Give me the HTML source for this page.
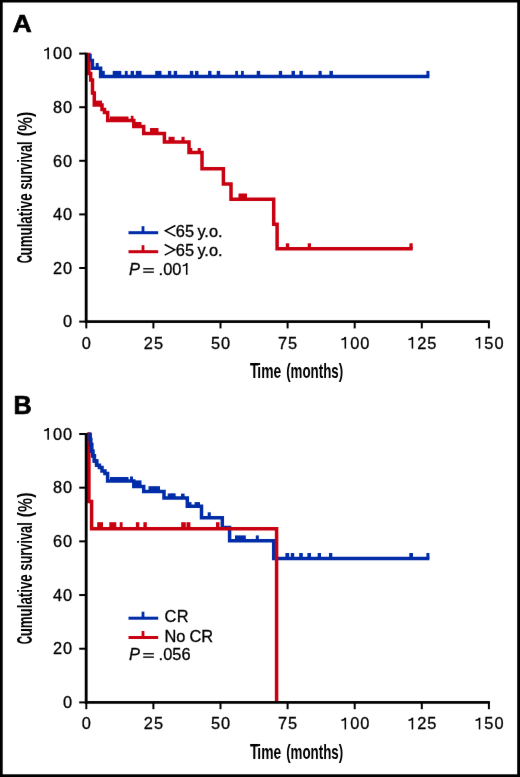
<!DOCTYPE html><html><head><meta charset="utf-8"><style>
html,body{margin:0;padding:0;background:#fff;width:520px;height:777px;overflow:hidden}
svg{display:block;will-change:transform}
text{font-family:"Liberation Sans",sans-serif;fill:#000}
.r{stroke:#000;stroke-width:0.3}
</style></head><body>
<svg width="520" height="777" viewBox="0 0 520 777">
<defs><filter id="sm" x="0" y="0" width="520" height="777" filterUnits="userSpaceOnUse" color-interpolation-filters="sRGB"><feConvolveMatrix order="3" kernelMatrix="0.0016 0.0371 0.0016 0.0371 0.8450 0.0371 0.0016 0.0371 0.0016" edgeMode="duplicate" preserveAlpha="true"/></filter></defs>
<g filter="url(#sm)">
<rect x="0" y="0" width="520" height="777" fill="#fff"/>
<text x="12.8" y="31.9" font-size="24.8" font-weight="bold" stroke="#000" stroke-width="0.7" transform="translate(12.8 0) scale(1.06 1) translate(-12.8 0)">A</text>
<text x="13.6" y="413.6" font-size="25.2" font-weight="bold" stroke="#000" stroke-width="0.7">B</text>
<text x="250.00" y="377.80" font-size="22.6" font-weight="bold" textLength="8.64" lengthAdjust="spacingAndGlyphs">T</text>
<text x="257.36" y="377.80" font-size="20.6" font-weight="bold" textLength="23.90" lengthAdjust="spacingAndGlyphs">ime</text>
<text x="286.17" y="377.80" font-size="20.6" font-weight="bold" textLength="57.05" lengthAdjust="spacingAndGlyphs">(months)</text>
<text x="250.00" y="758.50" font-size="22.6" font-weight="bold" textLength="8.64" lengthAdjust="spacingAndGlyphs">T</text>
<text x="257.36" y="758.50" font-size="20.6" font-weight="bold" textLength="23.90" lengthAdjust="spacingAndGlyphs">ime</text>
<text x="286.17" y="758.50" font-size="20.6" font-weight="bold" textLength="57.05" lengthAdjust="spacingAndGlyphs">(months)</text>
<text transform="translate(32.0 262.80) rotate(-90)" x="-0.52" y="0" font-size="22.6" font-weight="bold" textLength="8.24" lengthAdjust="spacingAndGlyphs">C</text>
<text transform="translate(32.0 254.10) rotate(-90)" x="-1.34" y="0" font-size="20.6" font-weight="bold" textLength="62.07" lengthAdjust="spacingAndGlyphs">umulative</text>
<text transform="translate(32.0 188.70) rotate(-90)" x="-1.14" y="0" font-size="20.6" font-weight="bold" textLength="48.47" lengthAdjust="spacingAndGlyphs">survival</text>
<text transform="translate(32.0 135.80) rotate(-90)" x="-0.46" y="0" font-size="20.6" font-weight="bold" textLength="24.55" lengthAdjust="spacingAndGlyphs">(%)</text>
<text transform="translate(31.6 643.70) rotate(-90)" x="-0.52" y="0" font-size="22.6" font-weight="bold" textLength="8.24" lengthAdjust="spacingAndGlyphs">C</text>
<text transform="translate(31.6 635.00) rotate(-90)" x="-1.34" y="0" font-size="20.6" font-weight="bold" textLength="62.07" lengthAdjust="spacingAndGlyphs">umulative</text>
<text transform="translate(31.6 569.60) rotate(-90)" x="-1.14" y="0" font-size="20.6" font-weight="bold" textLength="48.47" lengthAdjust="spacingAndGlyphs">survival</text>
<text transform="translate(31.6 516.70) rotate(-90)" x="-0.46" y="0" font-size="20.6" font-weight="bold" textLength="24.55" lengthAdjust="spacingAndGlyphs">(%)</text>
<path d="M90 53.8 V60.5 H92.4 V68.3 H100.6 V76.5 H429.4" fill="none" stroke="#002ca8" stroke-width="3.5" stroke-linejoin="miter"/>
<rect x="101.9" y="70.9" width="2.9" height="5.1" fill="#002ca8"/><rect x="112.7" y="70.9" width="8.6" height="5.1" fill="#002ca8"/><rect x="124.8" y="70.9" width="2.9" height="5.1" fill="#002ca8"/><rect x="130.6" y="70.9" width="3.4" height="5.1" fill="#002ca8"/><rect x="135.8" y="70.9" width="5.7" height="5.1" fill="#002ca8"/><rect x="155.2" y="70.9" width="6.3" height="5.1" fill="#002ca8"/><rect x="167.9" y="70.9" width="3.4" height="5.1" fill="#002ca8"/><rect x="173.7" y="70.9" width="3.4" height="5.1" fill="#002ca8"/><rect x="189.8" y="70.9" width="3.5" height="5.1" fill="#002ca8"/><rect x="195" y="70.9" width="3.5" height="5.1" fill="#002ca8"/><rect x="208.1" y="70.9" width="3.4" height="5.1" fill="#002ca8"/><rect x="216.7" y="70.9" width="3.5" height="5.1" fill="#002ca8"/><rect x="235.2" y="70.9" width="2.8" height="5.1" fill="#002ca8"/><rect x="241" y="70.9" width="2.8" height="5.1" fill="#002ca8"/><rect x="256.7" y="70.9" width="3.5" height="5.1" fill="#002ca8"/><rect x="278.8" y="70.9" width="3.3" height="5.1" fill="#002ca8"/><rect x="291.5" y="70.9" width="3.5" height="5.1" fill="#002ca8"/><rect x="299.4" y="70.9" width="3.4" height="5.1" fill="#002ca8"/><rect x="318.5" y="70.9" width="3.2" height="5.1" fill="#002ca8"/><rect x="329.4" y="70.9" width="3.5" height="5.1" fill="#002ca8"/><rect x="426.4" y="70.9" width="3.0" height="5.1" fill="#002ca8"/>
<rect x="95.7" y="63" width="3.0" height="5.3" fill="#002ca8"/>
<path d="M88.9 52.8 V73.5 H90.7 V80 H92.5 V93 H94.3 V105.1 H102 V109.5 H104.5 V112.5 H107.7 V120.5 H133.8 V126.5 H143.7 V133.5 H164.4 V142 H189 V152.6 H202 V168.8 H223.4 V183.9 H231 V199.2 H273.7 V224.2 H277.1 V248.8 H412.7" fill="none" stroke="#c80010" stroke-width="3.5" stroke-linejoin="miter"/>
<rect x="89" y="53.9" width="2" height="6.5" fill="#002ca8"/>
<rect x="95.5" y="100.6" width="6.5" height="4.5" fill="#c80010"/>
<rect x="110" y="116.5" width="18.5" height="4.0" fill="#c80010"/>
<rect x="130.8" y="115.8" width="2.7" height="4.7" fill="#c80010"/>
<rect x="134.5" y="122" width="7.0" height="4.5" fill="#c80010"/>
<rect x="150" y="128" width="8.5" height="5.5" fill="#c80010"/>
<rect x="168.5" y="136.8" width="6.1" height="5.2" fill="#c80010"/><rect x="181.5" y="136.8" width="3.1" height="5.2" fill="#c80010"/>
<rect x="188.5" y="148" width="3.8" height="4.6" fill="#c80010"/><rect x="197.7" y="148" width="3.1" height="4.6" fill="#c80010"/>
<rect x="238.5" y="193.5" width="8.5" height="5.7" fill="#c80010"/>
<rect x="285.8" y="243.3" width="3.4" height="5.5" fill="#c80010"/><rect x="307.7" y="243.3" width="3.3" height="5.5" fill="#c80010"/><rect x="409.4" y="243.3" width="3.3" height="5.5" fill="#c80010"/>
<path d="M90 432.8 V439.4 H90.6 V444.6 H91.6 V451.2 H92.75 V455.7 H94.35 V461 H96.6 V465.2 H99.4 V467.6 H102 V471 H104.95 V473.5 H107.6 V481.1 H133.8 V486.5 H143.7 V491.5 H164 V497.9 H187.3 V506.2 H201.5 V517.7 H222.3 V527.6 H229.6 V540.8 H273.7 V558.5 H429.4" fill="none" stroke="#002ca8" stroke-width="3.5" stroke-linejoin="miter"/>
<rect x="110" y="477" width="18.5" height="4.1" fill="#002ca8"/>
<rect x="130" y="476.5" width="3" height="4.6" fill="#002ca8"/>
<rect x="134.5" y="480.4" width="7.0" height="6.1" fill="#002ca8"/>
<rect x="148.5" y="486.2" width="11.5" height="5.3" fill="#002ca8"/>
<rect x="167.7" y="493.5" width="7.7" height="4.4" fill="#002ca8"/>
<rect x="170" y="493.6" width="5.4" height="4.3" fill="#002ca8"/><rect x="181" y="493.6" width="3.6" height="4.3" fill="#002ca8"/>
<rect x="187.7" y="502.1" width="3.8" height="4.1" fill="#002ca8"/><rect x="194.6" y="502.1" width="5.4" height="4.1" fill="#002ca8"/>
<rect x="207.7" y="512.3" width="3.1" height="5.4" fill="#002ca8"/>
<rect x="235" y="535.4" width="10.8" height="5.4" fill="#002ca8"/><rect x="255.8" y="535.4" width="3.0" height="5.4" fill="#002ca8"/>
<rect x="285.4" y="553" width="3.8" height="5.5" fill="#002ca8"/><rect x="290.8" y="553" width="3.4" height="5.5" fill="#002ca8"/><rect x="299.2" y="553" width="3.6" height="5.5" fill="#002ca8"/><rect x="307.4" y="553" width="3.6" height="5.5" fill="#002ca8"/><rect x="317.7" y="553" width="3.3" height="5.5" fill="#002ca8"/><rect x="329" y="553" width="3.3" height="5.5" fill="#002ca8"/><rect x="409.3" y="553" width="3.7" height="5.5" fill="#002ca8"/><rect x="426.4" y="553" width="3.0" height="5.5" fill="#002ca8"/>
<path d="M88.9 432.3 V501.5 H91.6 V528.8 H276.6 V702.4" fill="none" stroke="#c80010" stroke-width="3.5" stroke-linejoin="miter"/>
<path d="M90 432.8 V439.4 H90.6 V444.6 H91.6 V451.2 H92.75 V455.7 H94.35 V461 H96.6 V465.2" fill="none" stroke="#002ca8" stroke-width="3.5" stroke-linejoin="miter"/>
<rect x="97.2" y="522.2" width="5.8" height="6.6" fill="#c80010"/><rect x="109.3" y="522.2" width="7.0" height="6.6" fill="#c80010"/><rect x="119.7" y="522.2" width="2.9" height="6.6" fill="#c80010"/><rect x="135.9" y="522.2" width="3.4" height="6.6" fill="#c80010"/><rect x="143.4" y="522.2" width="3.4" height="6.6" fill="#c80010"/><rect x="181.2" y="522.2" width="4.6" height="6.6" fill="#c80010"/><rect x="186.5" y="522.2" width="3.9" height="6.6" fill="#c80010"/><rect x="216" y="522.2" width="3.5" height="6.6" fill="#c80010"/>
<rect x="84.75" y="52.60000000000002" width="2.85" height="270.3" fill="#000"/><rect x="84.9" y="320.25" width="405.0" height="2.7" fill="#000"/><rect x="79.2" y="320.6" width="6.5" height="2" fill="#000"/><text class="r" x="63.08" y="327.30" font-size="16.4" letter-spacing="1">0</text><rect x="79.2" y="267.0" width="6.5" height="2" fill="#000"/><text class="r" x="52.96" y="273.70" font-size="16.4" letter-spacing="1">20</text><rect x="79.2" y="213.40000000000003" width="6.5" height="2" fill="#000"/><text class="r" x="52.96" y="220.10" font-size="16.4" letter-spacing="1">40</text><rect x="79.2" y="159.8" width="6.5" height="2" fill="#000"/><text class="r" x="52.96" y="166.50" font-size="16.4" letter-spacing="1">60</text><rect x="79.2" y="106.20000000000002" width="6.5" height="2" fill="#000"/><text class="r" x="52.96" y="112.90" font-size="16.4" letter-spacing="1">80</text><rect x="79.2" y="52.60000000000002" width="6.5" height="2" fill="#000"/><text class="r" x="42.84" y="59.30" font-size="16.4" letter-spacing="1"><tspan fill="transparent" stroke="none">1</tspan>00</text><path d="M48.16 47.60 V59.30" stroke="#000" stroke-width="1.55" fill="none"/><path d="M48.26 47.90 C47.76 49.60 46.36 50.15 44.16 50.15" stroke="#000" stroke-width="1.5" fill="none"/><rect x="85.3" y="321.6" width="2" height="6.8" fill="#000"/><text class="r" x="81.74" y="348.60" font-size="16.4" letter-spacing="1">0</text><rect x="152.4" y="321.6" width="2" height="6.8" fill="#000"/><text class="r" x="143.78" y="348.60" font-size="16.4" letter-spacing="1">25</text><rect x="219.5" y="321.6" width="2" height="6.8" fill="#000"/><text class="r" x="210.88" y="348.60" font-size="16.4" letter-spacing="1">50</text><rect x="286.6" y="321.6" width="2" height="6.8" fill="#000"/><text class="r" x="277.98" y="348.60" font-size="16.4" letter-spacing="1">75</text><rect x="353.70000000000005" y="321.6" width="2" height="6.8" fill="#000"/><text class="r" x="340.02" y="348.60" font-size="16.4" letter-spacing="1"><tspan fill="transparent" stroke="none">1</tspan>00</text><path d="M345.33 336.90 V348.60" stroke="#000" stroke-width="1.55" fill="none"/><path d="M345.43 337.20 C344.93 338.90 343.53 339.45 341.33 339.45" stroke="#000" stroke-width="1.5" fill="none"/><rect x="420.8" y="321.6" width="2" height="6.8" fill="#000"/><text class="r" x="407.12" y="348.60" font-size="16.4" letter-spacing="1"><tspan fill="transparent" stroke="none">1</tspan>25</text><path d="M412.43 336.90 V348.60" stroke="#000" stroke-width="1.55" fill="none"/><path d="M412.53 337.20 C412.03 338.90 410.63 339.45 408.43 339.45" stroke="#000" stroke-width="1.5" fill="none"/><rect x="487.90000000000003" y="321.6" width="2" height="6.8" fill="#000"/><text class="r" x="474.22" y="348.60" font-size="16.4" letter-spacing="1"><tspan fill="transparent" stroke="none">1</tspan>50</text><path d="M479.53 336.90 V348.60" stroke="#000" stroke-width="1.55" fill="none"/><path d="M479.63 337.20 C479.13 338.90 477.73 339.45 475.53 339.45" stroke="#000" stroke-width="1.5" fill="none"/>
<rect x="84.75" y="432.99999999999994" width="2.85" height="270.70000000000005" fill="#000"/><rect x="84.9" y="701.05" width="405.0" height="2.7" fill="#000"/><rect x="79.2" y="701.4" width="6.5" height="2" fill="#000"/><text class="r" x="63.08" y="708.10" font-size="16.4" letter-spacing="1">0</text><rect x="79.2" y="647.72" width="6.5" height="2" fill="#000"/><text class="r" x="52.96" y="654.42" font-size="16.4" letter-spacing="1">20</text><rect x="79.2" y="594.04" width="6.5" height="2" fill="#000"/><text class="r" x="52.96" y="600.74" font-size="16.4" letter-spacing="1">40</text><rect x="79.2" y="540.3599999999999" width="6.5" height="2" fill="#000"/><text class="r" x="52.96" y="547.06" font-size="16.4" letter-spacing="1">60</text><rect x="79.2" y="486.67999999999995" width="6.5" height="2" fill="#000"/><text class="r" x="52.96" y="493.38" font-size="16.4" letter-spacing="1">80</text><rect x="79.2" y="432.99999999999994" width="6.5" height="2" fill="#000"/><text class="r" x="42.84" y="439.70" font-size="16.4" letter-spacing="1"><tspan fill="transparent" stroke="none">1</tspan>00</text><path d="M48.16 428.00 V439.70" stroke="#000" stroke-width="1.55" fill="none"/><path d="M48.26 428.30 C47.76 430.00 46.36 430.55 44.16 430.55" stroke="#000" stroke-width="1.5" fill="none"/><rect x="85.3" y="702.4" width="2" height="6.8" fill="#000"/><text class="r" x="81.74" y="729.40" font-size="16.4" letter-spacing="1">0</text><rect x="152.4" y="702.4" width="2" height="6.8" fill="#000"/><text class="r" x="143.78" y="729.40" font-size="16.4" letter-spacing="1">25</text><rect x="219.5" y="702.4" width="2" height="6.8" fill="#000"/><text class="r" x="210.88" y="729.40" font-size="16.4" letter-spacing="1">50</text><rect x="286.6" y="702.4" width="2" height="6.8" fill="#000"/><text class="r" x="277.98" y="729.40" font-size="16.4" letter-spacing="1">75</text><rect x="353.70000000000005" y="702.4" width="2" height="6.8" fill="#000"/><text class="r" x="340.02" y="729.40" font-size="16.4" letter-spacing="1"><tspan fill="transparent" stroke="none">1</tspan>00</text><path d="M345.33 717.70 V729.40" stroke="#000" stroke-width="1.55" fill="none"/><path d="M345.43 718.00 C344.93 719.70 343.53 720.25 341.33 720.25" stroke="#000" stroke-width="1.5" fill="none"/><rect x="420.8" y="702.4" width="2" height="6.8" fill="#000"/><text class="r" x="407.12" y="729.40" font-size="16.4" letter-spacing="1"><tspan fill="transparent" stroke="none">1</tspan>25</text><path d="M412.43 717.70 V729.40" stroke="#000" stroke-width="1.55" fill="none"/><path d="M412.53 718.00 C412.03 719.70 410.63 720.25 408.43 720.25" stroke="#000" stroke-width="1.5" fill="none"/><rect x="487.90000000000003" y="702.4" width="2" height="6.8" fill="#000"/><text class="r" x="474.22" y="729.40" font-size="16.4" letter-spacing="1"><tspan fill="transparent" stroke="none">1</tspan>50</text><path d="M479.53 717.70 V729.40" stroke="#000" stroke-width="1.55" fill="none"/><path d="M479.63 718.00 C479.13 719.70 477.73 720.25 475.53 720.25" stroke="#000" stroke-width="1.5" fill="none"/>
<rect x="128.5" y="231.2" width="29.7" height="3" fill="#002ca8"/><rect x="141.6" y="226.2" width="2.8" height="6" fill="#002ca8"/><rect x="128.5" y="250.2" width="29.7" height="3" fill="#c80010"/><rect x="141.6" y="245.2" width="2.8" height="6" fill="#c80010"/><path d="M175.4 225.5 L165.3 230.79999999999998 L175.4 236.1" fill="none" stroke="#000" stroke-width="1.45" stroke-linejoin="miter"/><path d="M164.7 244.5 L174.8 249.79999999999998 L164.7 255.1" fill="none" stroke="#000" stroke-width="1.45" stroke-linejoin="miter"/><text class="r" x="175.7" y="236.89999999999998" font-size="16.4" letter-spacing="0.3">65</text><text class="r" x="197.4" y="236.89999999999998" font-size="16.4" letter-spacing="0">y.o.</text><text class="r" x="175.7" y="255.89999999999998" font-size="16.4" letter-spacing="0.3">65</text><text class="r" x="197.4" y="255.89999999999998" font-size="16.4" letter-spacing="0">y.o.</text><text class="r" x="129" y="274.8" font-size="16.4" font-style="italic">P</text><rect x="143.2" y="268.1" width="10.7" height="1.35" fill="#000"/><rect x="143.2" y="271.45" width="10.7" height="1.35" fill="#000"/><text class="r" x="158.60" y="274.80" font-size="16.4" letter-spacing="0">.00<tspan fill="transparent" stroke="none">1</tspan></text><path d="M186.71 263.10 V274.80" stroke="#000" stroke-width="1.55" fill="none"/><path d="M186.81 263.40 C186.31 265.10 184.91 265.65 182.71 265.65" stroke="#000" stroke-width="1.5" fill="none"/>
<rect x="128.5" y="616.7" width="29.7" height="3" fill="#002ca8"/><rect x="141.6" y="611.7" width="2.8" height="6" fill="#002ca8"/><rect x="128.5" y="636.0" width="29.7" height="3" fill="#c80010"/><rect x="141.6" y="631.0" width="2.8" height="6" fill="#c80010"/><text class="r" x="164.6" y="622.4000000000001" font-size="16.4" letter-spacing="0.2">CR</text><text class="r" x="164.6" y="641.7" font-size="16.4" letter-spacing="-0.2">No CR</text><text class="r" x="129" y="659.8" font-size="16.4" font-style="italic">P</text><rect x="143.2" y="653.0999999999999" width="10.7" height="1.35" fill="#000"/><rect x="143.2" y="656.4499999999999" width="10.7" height="1.35" fill="#000"/><text class="r" x="158.60" y="659.80" font-size="16.4" letter-spacing="0">.056</text>
<rect x="0" y="0" width="520" height="2.5" fill="#000"/>
<rect x="0" y="774.3" width="520" height="2.7" fill="#000"/>
<rect x="0" y="0" width="2.7" height="777" fill="#000"/>
<rect x="517.2" y="0" width="2.8" height="777" fill="#000"/>
</g></svg></body></html>
